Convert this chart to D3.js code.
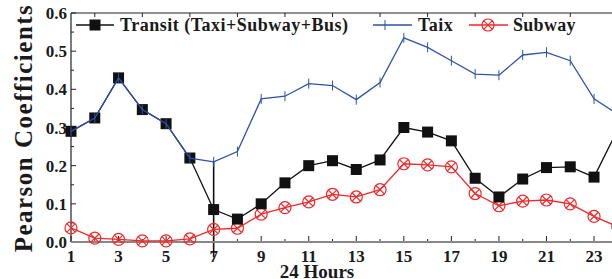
<!DOCTYPE html>
<html><head><meta charset="utf-8">
<script src="https://cdn.jsdelivr.net/npm/d3@7"></script>
<style>body{margin:0;background:#fff}svg{display:block}text{font-family:"Liberation Serif","DejaVu Serif",serif;font-weight:bold;fill:#1a1a1a}</style>
</head><body><svg id="c" width="612" height="279"></svg>
<script>
const hours = d3.range(1, 25);
const transit = [0.29,0.325,0.43,0.347,0.31,0.22,0.085,0.06,0.10,0.155,0.20,0.213,0.19,0.215,0.30,0.288,0.265,0.167,0.118,0.165,0.195,0.197,0.17,0.295];
const taxi = [0.29,0.325,0.43,0.347,0.31,0.22,0.21,0.237,0.375,0.382,0.415,0.41,0.373,0.418,0.535,0.51,0.475,0.44,0.437,0.49,0.497,0.475,0.375,0.335];
const subway = [0.037,0.01,0.007,0.003,0.003,0.008,0.033,0.036,0.073,0.09,0.105,0.125,0.118,0.137,0.205,0.202,0.197,0.127,0.095,0.107,0.11,0.1,0.067,0.04];
const xTickLabels = [1,3,5,7,9,11,13,15,17,19,21,23];
const yTicks = [0,0.1,0.2,0.3,0.4,0.5,0.6];
const spike = {hour:7, from:0.21, to:-0.04};
const legendLabels = ["Transit (Taxi+Subway+Bus)","Taix","Subway"];

const svg = d3.select("#c");
const x = d3.scaleLinear().domain([1,24]).range([71, 617.8]);
const y = d3.scaleLinear().domain([0,0.6]).range([242, 13]);
const L = x(1), R = x(24), T = y(0.6), B = y(0);

// frame
svg.append("line").attr("x1",L).attr("x2",L).attr("y1",T).attr("y2",B).attr("stroke","#222").attr("stroke-width",1.2);
svg.append("line").attr("x1",L).attr("x2",R).attr("y1",T).attr("y2",T).attr("stroke","#222").attr("stroke-width",1.2);
svg.append("line").attr("x1",R).attr("x2",R).attr("y1",T).attr("y2",B).attr("stroke","#222").attr("stroke-width",1.2);

// y ticks inward
const yMinor = d3.range(0.05,0.6,0.1);
svg.selectAll(".yt").data(yTicks).join("line").attr("x1",L).attr("x2",L+5).attr("y1",d=>y(d)).attr("y2",d=>y(d)).attr("stroke","#222");
svg.selectAll(".ym").data(yMinor).join("line").attr("x1",L).attr("x2",L+3).attr("y1",d=>y(d)).attr("y2",d=>y(d)).attr("stroke","#222");
svg.selectAll(".yl").data(yTicks).join("text").attr("x",L-4).attr("y",d=>y(d)+6).attr("text-anchor","end").attr("font-size",17).text(d=>d.toFixed(1));

// x ticks
svg.selectAll(".xt").data(hours).join("line").attr("x1",d=>x(d)).attr("x2",d=>x(d)).attr("y1",B).attr("y2",d=>B-(d%2?6:3)).attr("stroke","#222");
svg.selectAll(".xtt").data(hours.filter(h=>h%2===0)).join("line").attr("x1",d=>x(d)).attr("x2",d=>x(d)).attr("y1",T).attr("y2",T+4).attr("stroke","#222");
svg.selectAll(".xl").data(xTickLabels).join("text").attr("x",d=>x(d)).attr("y",262).attr("text-anchor","middle").attr("font-size",17).text(d=>d);

// spike line
svg.append("line").attr("x1",x(spike.hour)).attr("x2",x(spike.hour)).attr("y1",y(spike.from)).attr("y2",y(spike.to)).attr("stroke","#111").attr("stroke-width",1.6);

// bottom axis grey
svg.append("line").attr("x1",L).attr("x2",R).attr("y1",B).attr("y2",B).attr("stroke","#888").attr("stroke-width",2);

const line = d3.line().x((d,i)=>x(hours[i])).y(d=>y(d));
const red = "#f0282a", blue = "#2e52a8", blk = "#111";

function circ(g, cx, cy){
  g.append("circle").attr("cx",cx).attr("cy",cy).attr("r",6).attr("fill","none").attr("stroke",red).attr("stroke-width",1.2);
  g.append("path").attr("d",`M${cx-4.2},${cy-4.2}L${cx+4.2},${cy+4.2}M${cx-4.2},${cy+4.2}L${cx+4.2},${cy-4.2}`).attr("stroke",red).attr("stroke-width",1.2);
}
function sq(g, cx, cy){ g.append("rect").attr("x",cx-5.5).attr("y",cy-5.5).attr("width",11).attr("height",11).attr("fill",blk); }
function tk(g, cx, cy){ g.append("line").attr("x1",cx).attr("x2",cx).attr("y1",cy-5).attr("y2",cy+5).attr("stroke",blue).attr("stroke-width",1); }

// subway
svg.append("path").attr("d",line(subway)).attr("fill","none").attr("stroke",red).attr("stroke-width",1.3);
const gs = svg.append("g"); subway.forEach((v,i)=>circ(gs, x(hours[i]), y(v)));
// transit
svg.append("path").attr("d",line(transit)).attr("fill","none").attr("stroke",blk).attr("stroke-width",1.3);
const gt = svg.append("g"); transit.forEach((v,i)=>sq(gt, x(hours[i]), y(v)));
// taxi
svg.append("path").attr("d",line(taxi)).attr("fill","none").attr("stroke",blue).attr("stroke-width",1.3);
const gx = svg.append("g"); taxi.forEach((v,i)=>tk(gx, x(hours[i]), y(v)));

// legend
const ly = 25;
const lg = svg.append("g");
lg.append("line").attr("x1",76).attr("x2",114).attr("y1",ly).attr("y2",ly).attr("stroke",blk).attr("stroke-width",1.3);
sq(lg, 95, ly);
lg.append("text").attr("x",120).attr("y",ly+6).attr("font-size",18).attr("letter-spacing",0.5).text(legendLabels[0]);
lg.append("line").attr("x1",373).attr("x2",412).attr("y1",ly).attr("y2",ly).attr("stroke",blue).attr("stroke-width",1.3);
tk(lg, 385, ly);
lg.append("text").attr("x",418).attr("y",ly+6).attr("font-size",18).attr("letter-spacing",0.5).text(legendLabels[1]);
lg.append("line").attr("x1",469).attr("x2",508).attr("y1",ly).attr("y2",ly).attr("stroke",red).attr("stroke-width",1.3);
circ(lg, 488, ly);
lg.append("text").attr("x",513).attr("y",ly+6).attr("font-size",18).attr("letter-spacing",0.3).text(legendLabels[2]);

// axis titles
svg.append("text").attr("transform",`translate(32,128) rotate(-90)`).attr("text-anchor","middle").attr("font-size",25).attr("letter-spacing",1.5).text("Pearson Coefficients");
svg.append("text").attr("x",317).attr("y",278).attr("text-anchor","middle").attr("font-size",19).text("24 Hours");
</script></body></html>
